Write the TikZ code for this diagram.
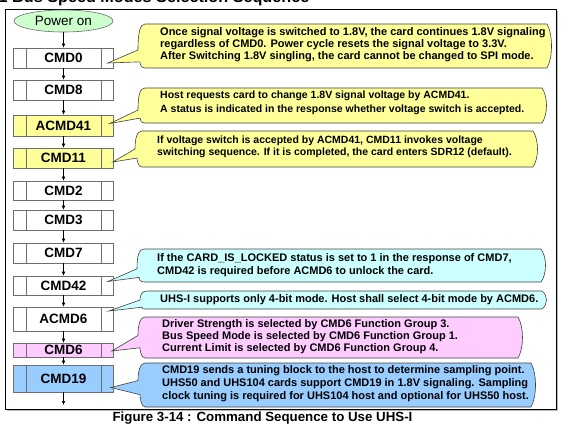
\documentclass[tikz,border=0pt]{standalone}
\usepackage{fontspec}
\setmainfont{Liberation Sans}
\usetikzlibrary{calc,arrows.meta,shapes.geometric}
\definecolor{yel}{HTML}{FFFF99}
\definecolor{cyn}{HTML}{CCFFFF}
\definecolor{pnk}{HTML}{FFCCFF}
\definecolor{blu}{HTML}{99CCFF}
\definecolor{grn}{HTML}{CCFFCC}
\definecolor{boxgray}{HTML}{6E6E6E}
\tikzset{
 cmdbox/.style={draw=boxgray, line width=0.6pt, minimum width=100pt, inner sep=0pt,
   font=\bfseries\fontsize{13.5}{16}\selectfont,
   path picture={\draw[boxgray, line width=0.5pt]
     ([xshift=12.5pt]path picture bounding box.north west) -- ([xshift=12.5pt]path picture bounding box.south west)
     ([xshift=-12pt]path picture bounding box.north east) -- ([xshift=-12pt]path picture bounding box.south east);}},
 flow/.style={-{Latex[length=4pt,width=3.5pt]}, line width=0.5pt},
 note/.style={font=\bfseries\fontsize{11}{12}\selectfont, align=left, inner sep=0pt, anchor=west},
 smallnote/.style={note, font=\bfseries\fontsize{10.5}{13.5}\selectfont},
 calloutline/.style={draw=black!75, line width=0.6pt},
}
\newcommand\mycallout[8]{%
 \pgfmathsetmacro\hh{#5-#3}%
 \pgfmathsetmacro\ya{#3+#7*\hh}%
 \pgfmathsetmacro\yb{#3+#8*\hh}%
 \draw[calloutline,fill=#1] (#2+2,#3) -- (#4,#3)
   .. controls (#4+6,#3+0.25*\hh) and (#4+6,#5-0.25*\hh) .. (#4,#5)
   -- (#2+2,#5)
   .. controls (#2-2,#5) and (#2-3,\yb+2) .. (#2-3,\yb)
   -- (#6) -- (#2-5,\ya)
   .. controls (#2-5,#3+0.2*\hh) and (#2-3,#3) .. (#2+2,#3) -- cycle;
}
\begin{document}
\begin{tikzpicture}[x=1pt,y=-1pt]
\useasboundingbox (0,0) rectangle (572,426);
% frame
\draw[gray!55, line width=1pt] (7,410.6) -- (557.6,410.6) -- (557.6,11);
\draw[black, line width=0.7pt] (5,9) rectangle (556,409);
% title and caption
\node[font=\bfseries\fontsize{16.2}{19}\selectfont, anchor=base west, inner sep=0pt] (title) at (-1.5,2.6) {1 Bus Speed Modes Selection Sequence};
\node[font=\bfseries\fontsize{13.3}{16}\selectfont, inner sep=0pt] (cap) at (262.5,418) {Figure 3-14 : Command Sequence to Use UHS-I};
% flow
\node[draw=boxgray, line width=0.6pt, fill=grn, ellipse, minimum width=99pt, minimum height=22pt, inner sep=0pt, font=\fontsize{13.5}{16}\selectfont] (pwr) at (63.5,21) {Power on};
\node[cmdbox, minimum height=20pt] (cmd0) at (63.5,58) {CMD0};
\node[cmdbox, minimum height=20pt] (cmd8) at (63.5,90) {CMD8};
\node[cmdbox, minimum height=21pt, fill=yel] (acmd41) at (63.5,125.5) {ACMD41};
\node[cmdbox, minimum height=20pt, fill=yel] (cmd11) at (63.5,158) {CMD11};
\node[cmdbox, minimum height=19pt] (cmd2) at (63.5,190.5) {CMD2};
\node[cmdbox, minimum height=20pt] (cmd3) at (63.5,220) {CMD3};
\node[cmdbox, minimum height=20pt] (cmd7) at (63.5,253) {CMD7};
\node[cmdbox, minimum height=19pt] (cmd42) at (63.5,285.5) {CMD42};
\node[cmdbox, minimum height=24pt] (acmd6) at (63.5,319) {ACMD6};
\node[cmdbox, minimum height=14pt, fill=pnk] (cmd6) at (63.5,350) {CMD6};
\node[cmdbox, minimum height=27pt, fill=blu] (cmd19) at (63.5,378.5) {CMD19};
\coordinate (end) at (63.5,405);
\draw[flow] (pwr) -- (cmd0);
\draw[flow] (cmd0) -- (cmd8);
\draw[flow] (cmd8) -- (acmd41);
\draw[flow] (acmd41) -- (cmd11);
\draw[flow] (cmd11) -- (cmd2);
\draw[flow] (cmd2) -- (cmd3);
\draw[flow] (cmd3) -- (cmd7);
\draw[flow] (cmd7) -- (cmd42);
\draw[flow] (cmd42) -- (acmd6);
\draw[flow] (acmd6) -- (cmd6);
\draw[flow] (cmd6) -- (cmd19);
\draw[flow] (cmd19) -- (end);
% callouts
\mycallout{yel}{143}{24}{547}{68}{$(cmd0.east)+(-6,5)$}{0.59}{0.86}
\mycallout{yel}{143}{88}{542}{123}{$(acmd41.east)+(-4,-2)$}{0.63}{0.86}
\mycallout{yel}{140}{131}{533}{167}{$(cmd11.east)+(-1,4)$}{0.5}{0.75}
\mycallout{cyn}{142}{249}{541}{282}{$(cmd42.east)+(-6,-4)$}{0.6}{0.86}
\mycallout{cyn}{145}{291}{542}{309}{$(acmd6.east)+(-5,-8)$}{0.5}{0.9}
\mycallout{pnk}{143}{317}{518}{358}{$(cmd6.east)+(-2,1)$}{0.45}{0.75}
\mycallout{blu}{143}{363}{531}{407}{$(cmd19.east)+(-3,9)$}{0.4}{0.72}
\node[note] (n1) at (160,45) {Once signal voltage is switched to 1.8V, the card continues 1.8V signaling\\regardless of CMD0. Power cycle resets the signal voltage to 3.3V.\\After Switching 1.8V singling, the card cannot be changed to SPI mode.};
\node[smallnote] (n2) at (160,103) {Host requests card to change 1.8V signal voltage by ACMD41.\\A status is indicated in the response whether voltage switch is accepted.};
\node[smallnote, font=\bfseries\fontsize{10.5}{12.6}\selectfont] (n3) at (157,147) {If voltage switch is accepted by ACMD41, CMD11 invokes voltage\\switching sequence. If it is completed, the card enters SDR12 (default).};
\node[note, font=\bfseries\fontsize{11}{13.4}\selectfont] (n4) at (157,265) {If the CARD\_IS\_LOCKED status is set to 1 in the response of CMD7,\\CMD42 is required before ACMD6 to unlock the card.};
\node[note] (n5) at (160,300) {UHS-I supports only 4-bit mode. Host shall select 4-bit mode by ACMD6.};
\node[note] (n6) at (162,337) {Driver Strength is selected by CMD6 Function Group 3.\\Bus Speed Mode is selected by CMD6 Function Group 1.\\Current Limit is selected by CMD6 Function Group 4.};
\node[note, font=\bfseries\fontsize{11}{13}\selectfont] (n7) at (162,384) {CMD19 sends a tuning block to the host to determine sampling point.\\UHS50 and UHS104 cards support CMD19 in 1.8V signaling. Sampling\\clock tuning is required for UHS104 host and optional for UHS50 host.};
\end{tikzpicture}
\end{document}
